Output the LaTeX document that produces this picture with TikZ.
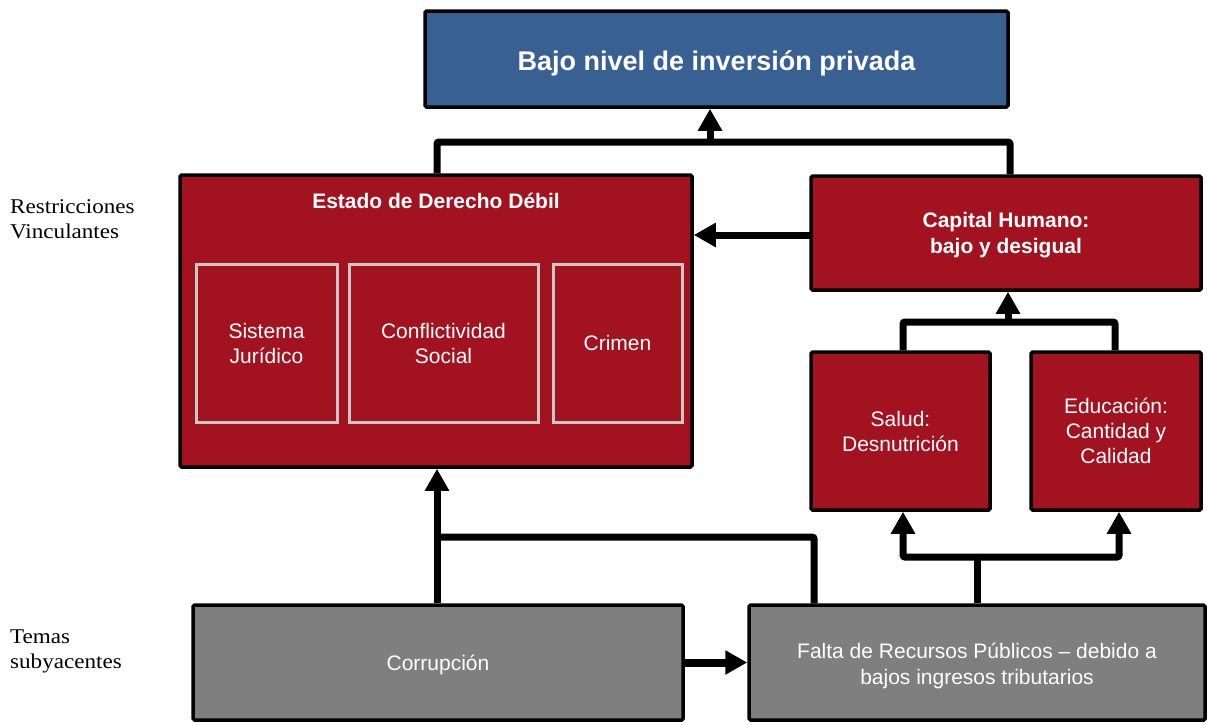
\documentclass[tikz,border=0pt]{standalone}
\usepackage{fontspec}
\setmainfont{Liberation Sans}
\newfontfamily\labfont[FakeStretch=1.1]{Liberation Serif}
\usetikzlibrary{arrows.meta}
\definecolor{topblue}{RGB}{56,96,146}
\definecolor{boxred}{RGB}{162,18,31}
\definecolor{boxgray}{RGB}{127,127,127}
\definecolor{innerline}{RGB}{200,200,200}
\newcommand{\lowertxt}[2]{\raisebox{-#1}[\height][\depth]{#2}}
\tikzset{
  basebox/.style={draw=black, line width=3.5pt, rounded corners=1.5pt, inner sep=2pt,
    text=white, align=center},
  bluebox/.style={basebox, fill=topblue, font=\bfseries\fontsize{27}{30}\selectfont},
  redbox/.style={basebox, fill=boxred, font=\fontsize{21}{25}\selectfont},
  graybox/.style={basebox, fill=boxgray, font=\fontsize{21}{26}\selectfont},
  innerbox/.style={draw=innerline, line width=3pt, fill=boxred, text=white, align=center,
    font=\fontsize{21}{25}\selectfont, inner sep=2pt},
  boldtxt/.style={font=\bfseries\fontsize{21}{26}\selectfont},
  conn/.style={draw=black, line width=7pt, rounded corners=2pt},
  arr/.style={-{Triangle[length=22pt,width=23pt]}},
  sidelabel/.style={anchor=north west, inner sep=0pt, align=left,
    font=\labfont\fontsize{21}{25}\selectfont, text=black}
}
\begin{document}
\begin{tikzpicture}[x=1pt,y=-1pt]
\useasboundingbox[fill=white] (0,0) rectangle (1209,724);

% boxes
\node[bluebox, minimum width=583pt, minimum height=96pt] (top) at (716.5,59) {\lowertxt{4pt}{Bajo nivel de inversión privada}};
\node[redbox, minimum width=512pt, minimum height=292pt] (estado) at (436,321) {};
\node[text=white, boldtxt, inner sep=0pt] (estadotitle) at (436,201) {Estado de Derecho Débil};
\node[innerbox, minimum width=141pt, minimum height=158pt] (sist) at (266.5,343) {Sistema\\Jurídico};
\node[innerbox, minimum width=189pt, minimum height=158pt] (conf) at (443.5,343) {Conflictividad\\Social};
\node[innerbox, minimum width=129pt, minimum height=158pt] (crim) at (617.5,343) {Crimen};
\node[redbox, boldtxt, minimum width=390pt, minimum height=114pt] (cap) at (1006,233) {\lowertxt{2pt}{Capital Humano:}\\\lowertxt{2pt}{bajo y desigual}};
\node[redbox, minimum width=179pt, minimum height=158pt] (salud) at (900.5,431) {Salud:\\Desnutrición};
\node[redbox, minimum width=170pt, minimum height=158pt] (educ) at (1116,431) {Educación:\\Cantidad y\\Calidad};
\node[graybox, minimum width=490pt, minimum height=115pt] (corr) at (438,662.5) {\lowertxt{2pt}{Corrupción}};
\node[graybox, minimum width=456pt, minimum height=115pt] (falta) at (977,662.5) {\lowertxt{3pt}{Falta de Recursos Públicos -- debido a}\\\lowertxt{3pt}{bajos ingresos tributarios}};

% side labels
\node[sidelabel] (restr) at (10,199) {Restricciones\\Vinculantes};
\node[sidelabel] (temas) at (10,630) {Temas\\subyacentes};

% junction coordinates
\coordinate (j1) at (437,142);
\coordinate (j2) at (1010,142);
\coordinate (j3) at (710,142);
\coordinate (k1) at (903,322);
\coordinate (k2) at (1115,322);
\coordinate (k3) at (1008,322);
\coordinate (m1) at (437,537);
\coordinate (m2) at (814,537);
\coordinate (n1) at (977,557);
\coordinate (n2) at (903,557);
\coordinate (n3) at (1119,557);
\coordinate (c1) at (811,235);

% connectors
\draw[conn] (estado.north -| j1) -- (j1) -- (j2) -- (cap.north -| j2);
\draw[conn,arr] ([yshift=3.5pt]j3) -- (top.south -| j3);
\draw[conn,arr] (c1) -- (estado.east |- c1);
\draw[conn] (salud.north -| k1) -- (k1) -- (k2) -- (educ.north -| k2);
\draw[conn,arr] ([yshift=3.5pt]k3) -- (cap.south -| k3);
\draw[conn,arr] (corr.north -| m1) -- (estado.south -| m1);
\draw[conn] (falta.north -| m2) -- (m2) -- (m1);
\draw[conn] (falta.north -| n1) -- (n1);
\draw[conn,arr] (n1) -- (n2) -- (salud.south -| n2);
\draw[conn,arr] (n1) -- (n3) -- (educ.south -| n3);
\draw[conn,arr,line width=8pt] (corr.east) -- (falta.west);
\end{tikzpicture}
\end{document}
